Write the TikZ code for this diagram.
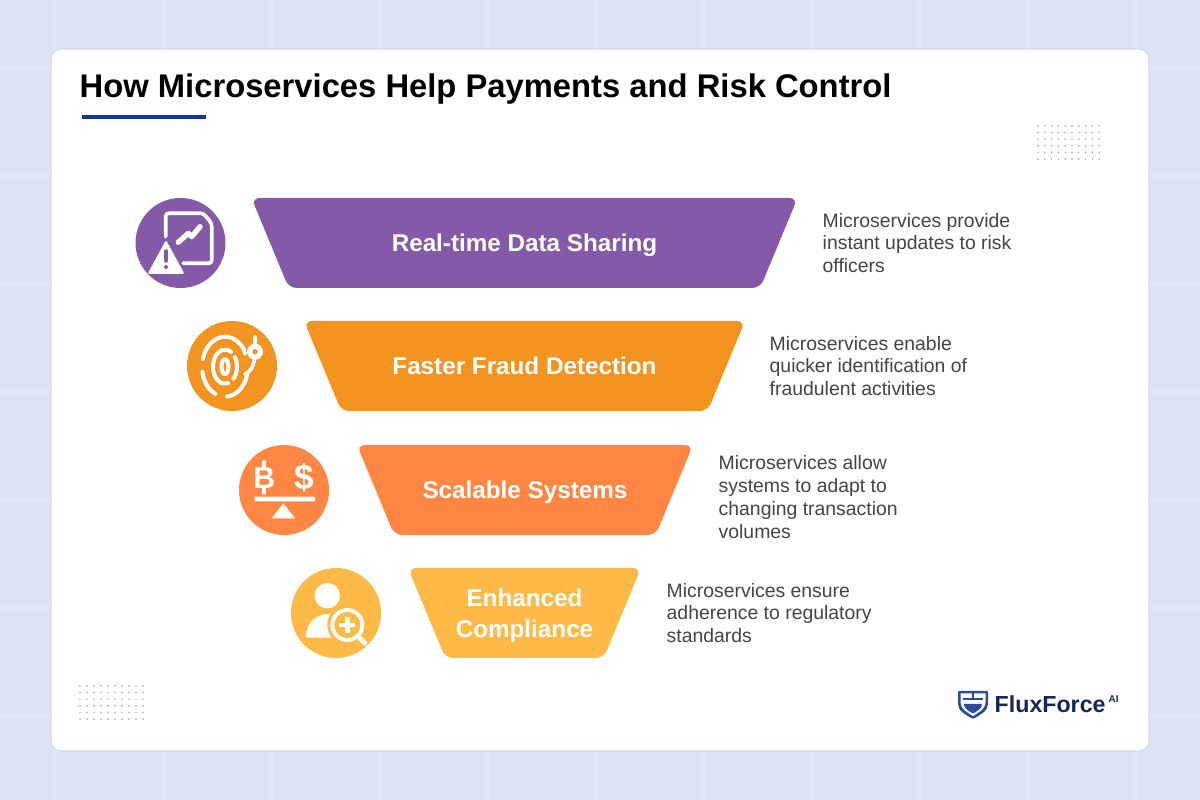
\documentclass[tikz,border=0pt]{standalone}
\usepackage{fontspec}
\usetikzlibrary{shapes.geometric}
\setmainfont{Liberation Sans}
\definecolor{pagebg}{HTML}{DDE3F5}
\definecolor{pageband}{HTML}{E2E7F7}
\definecolor{cardline}{HTML}{D5D8E2}
\definecolor{rulenavy}{HTML}{0F3A9A}
\definecolor{bandpurple}{HTML}{8359A8}
\definecolor{bandorange}{HTML}{F39320}
\definecolor{bandcoral}{HTML}{FF8743}
\definecolor{bandyellow}{HTML}{FFB947}
\definecolor{desctext}{HTML}{444444}
\definecolor{logonavy}{HTML}{14275A}
\definecolor{logoblue}{HTML}{2B4AA0}
\tikzset{
  funnelbar/.style={trapezium,shape border rotate=180,trapezium left angle=67.5,trapezium right angle=67.5,
    trapezium stretches body=true,minimum height=0.9cm,inner xsep=0pt,inner ysep=10.3pt,outer sep=0pt,rounded corners=0.08cm,
    text height=5pt,text depth=0pt,text=white,align=center,font=\fontsize{6.9pt}{8.9pt}\selectfont\bfseries},
  iconbase/.style={circle,minimum size=0.9cm,inner sep=0pt,outer sep=0pt},
  desc/.style={anchor=west,align=left,inner sep=0pt,text=desctext,font=\fontsize{5.52pt}{6.52pt}\selectfont},
  iconline/.style={white,line width=1.05pt,line cap=round,line join=round},
  griddot/.style={fill=gray!80,draw=none}
}
\begin{document}
\begin{tikzpicture}
  \useasboundingbox (0,0) rectangle (12,8);
  \fill[pagebg] (0,0) rectangle (12,8);
  % background grid
  \foreach \x in {0.55,1.63,...,11.9}
    \fill[pageband] (\x-0.025,0) rectangle (\x+0.025,8);
  \foreach \y in {7.32,6.24,...,0}
    \fill[pageband] (0,\y-0.025) rectangle (12,\y+0.025);
  \filldraw[fill=white,draw=cardline,line width=0.3pt,rounded corners=0.1cm] (0.51,0.49) rectangle (11.49,7.51);

  \node[anchor=west,inner sep=0pt,font=\fontsize{9.32pt}{11pt}\selectfont\bfseries] (title) at (0.79,7.11) {How Microservices Help Payments and Risk Control};
  \fill[rulenavy] (0.82,6.81) rectangle (2.06,6.85);

  % dots
  \foreach \i in {0,...,9}
    \foreach \j in {0,...,5} {
      \fill[griddot] (10.38+0.068*\i,6.74-0.066*\j) circle (0.008);
      \fill[griddot] (0.80+0.07*\i,1.14-0.066*\j) circle (0.008);
    }

  % funnel
  \node[funnelbar,fill=bandpurple,minimum width=5.46cm] (sharing) at (5.245,5.57) {Real-time Data Sharing};
  \node[funnelbar,fill=bandorange,minimum width=4.41cm] (fraud) at (5.245,4.34) {Faster Fraud Detection};
  \node[funnelbar,fill=bandcoral,minimum width=3.36cm] (scalable) at (5.25,3.10) {Scalable Systems};
  \node[funnelbar,fill=bandyellow,minimum width=2.33cm,text height=,text depth=,inner ysep=5.85pt] (compliance) at (5.245,1.87) {Enhanced\\\smash{Compliance}};

  % text on the right
  \node[desc] (sharingtext) at (8.22,5.57) {Microservices provide\\instant updates to risk\\officers};
  \node[desc] (fraudtext) at (7.69,4.34) {Microservices enable\\quicker identification of\\fraudulent activities};
  \node[desc] (scalabletext) at (7.18,3.03) {Microservices allow\\systems to adapt to\\changing transaction\\volumes};
  \node[desc] (compliancetext) at (6.66,1.87) {Microservices ensure\\adherence to regulatory\\standards};

  % icons
  \node[iconbase,fill=bandpurple] (sharingicon) at (1.805,5.57) {};
  \node[iconbase,fill=bandorange] (fraudicon) at (2.32,4.34) {};
  \node[iconbase,fill=bandcoral] (scalableicon) at (2.84,3.10) {};
  \node[iconbase,fill=bandyellow] (complianceicon) at (3.36,1.87) {};

  \begin{scope}[shift={(sharingicon.center)}]
    \draw[iconline,rounded corners=0.03cm] (-0.148,0.063) -- (-0.148,0.297) -- (0.228,0.297) -- (0.312,0.197) -- (0.312,-0.203) -- (0.028,-0.203);
    \draw[iconline,line width=1.5pt] (-0.022,0.007) -- (0.078,0.097) -- (0.112,0.063) -- (0.195,0.163);
    \fill[white,rounded corners=0.02cm] (-0.145,0.03) -- (-0.33,-0.31) -- (0.04,-0.31) -- cycle;
    \draw[bandpurple,line width=1pt,line cap=round] (-0.145,-0.08) -- (-0.145,-0.18);
    \fill[bandpurple] (-0.145,-0.24) circle (0.02);
  \end{scope}

  \begin{scope}[shift={(fraudicon.center)}]
    \begin{scope}[shift={(-0.07,-0.007)},iconline,line width=1.15pt]
      \foreach \a/\b in {35/165, 190/245, 275/345}
        \draw ({0.23*cos(\a)},{0.3*sin(\a)}) arc[start angle=\a,end angle=\b,x radius=0.23,y radius=0.3];
      \foreach \a/\b in {60/180, 180/285, 315/395}
        \draw ({0.12*cos(\a)},{0.17*sin(\a)}) arc[start angle=\a,end angle=\b,x radius=0.12,y radius=0.17];
      \draw (0,0) ellipse (0.035 and 0.075);
    \end{scope}
    \draw[iconline] (0.23,0.293) -- (0.23,0.14) .. controls (0.23,0.03) and (0.2,-0.05) .. (0.13,-0.08);
    \draw[iconline] (0.12,0.17) -- (0.13,0.12);
    \fill[white] (0.23,0.143) circle (0.08);
    \fill[bandorange] (0.23,0.143) circle (0.027);
  \end{scope}

  \begin{scope}[shift={(scalableicon.center)}]
    \node[text=white,inner sep=0pt,font=\fontsize{8.6pt}{9pt}\selectfont\bfseries] (baht) at (-0.197,0.123) {B};
    \node[text=white,inner sep=0pt,font=\fontsize{10pt}{10pt}\selectfont\bfseries] (dollar) at (0.2,0.123) {\$};
    \draw[iconline] (-0.2,0.28) -- (-0.2,0.22) (-0.2,0.02) -- (-0.2,-0.03);
    \fill[white,rounded corners=0.01cm] (-0.297,-0.113) rectangle (0.31,-0.067);
    \fill[white] (-0.123,-0.283) -- (0.11,-0.283) -- (-0.007,-0.133) -- cycle;
  \end{scope}

  \begin{scope}[shift={(complianceicon.center)}]
    \fill[white] (-0.087,0.173) circle (0.127);
    \fill[white,rounded corners=0.02cm] (-0.303,-0.247) .. controls (-0.29,-0.09) and (-0.19,-0.01) .. (-0.06,-0.01) -- (0.1,-0.01) -- (0.1,-0.247) -- cycle;
    \fill[bandyellow] (0.113,-0.12) circle (0.2);
    \draw[white,line width=1.1pt] (0.113,-0.12) circle (0.15);
    \draw[white,line width=1.3pt] (0.113,-0.2) -- (0.113,-0.04) (0.033,-0.12) -- (0.193,-0.12);
    \draw[iconline,line width=1.3pt] (0.223,-0.237) -- (0.29,-0.303);
  \end{scope}

  % logo
  \fill[logoblue,rounded corners=0.01cm] (9.58,1.09) -- (9.88,1.09) -- (9.88,0.97) .. controls (9.88,0.89) and (9.80,0.85) .. (9.73,0.81) .. controls (9.66,0.85) and (9.58,0.89) .. (9.58,0.97) -- cycle;
  \fill[white] (9.605,1.065) -- (9.855,1.065) -- (9.855,0.975) .. controls (9.855,0.91) and (9.785,0.875) .. (9.73,0.84) .. controls (9.675,0.875) and (9.605,0.91) .. (9.605,0.975) -- cycle;
  \fill[logoblue] (9.63,1.0) rectangle (9.83,1.02);
  \fill[logoblue] (9.72,1.0) rectangle (9.74,1.065);
  \fill[logoblue] (9.64,0.96) -- (9.82,0.96) .. controls (9.82,0.91) and (9.77,0.89) .. (9.73,0.865) .. controls (9.69,0.89) and (9.64,0.91) .. (9.64,0.96) -- cycle;
  \node[anchor=south west,inner sep=0pt,text=logonavy,font=\fontsize{6.6pt}{7pt}\selectfont\bfseries] (logotext) at (9.94,0.87) {FluxForce};
  \node[anchor=south west,inner sep=0pt,text=logonavy,font=\fontsize{2.8pt}{3pt}\selectfont\bfseries] (logoai) at (11.08,0.97) {AI};
\end{tikzpicture}
\end{document}
